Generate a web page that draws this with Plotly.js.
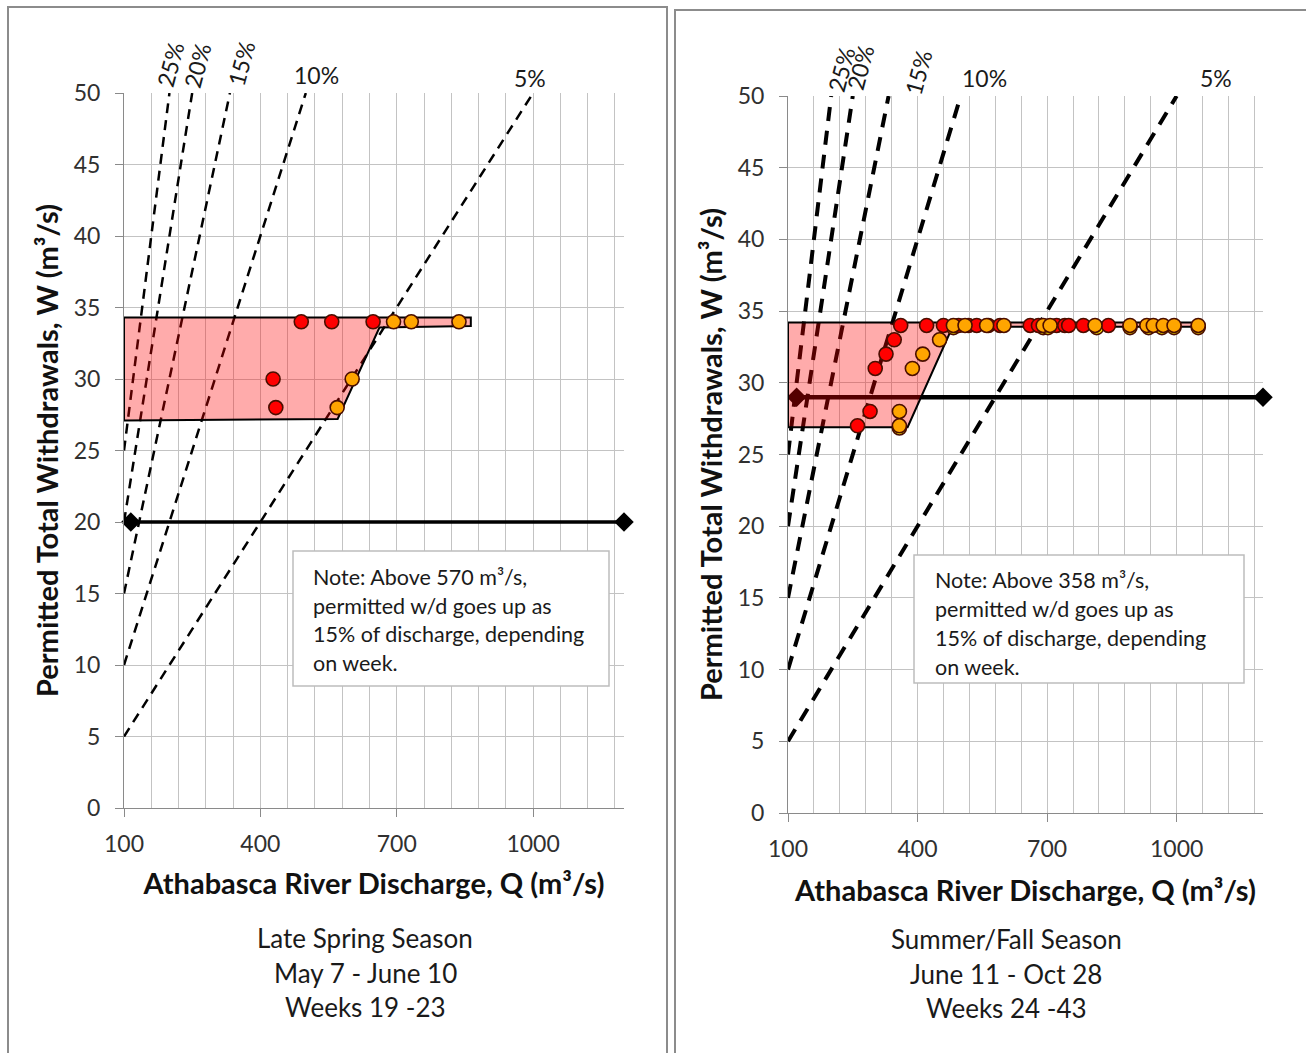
<!DOCTYPE html>
<html><head><meta charset="utf-8">
<script src="https://cdn.plot.ly/plotly-3.0.1.min.js"></script>
<style>html,body{margin:0;padding:0;background:#fff}#chart{width:1306px;height:1053px}</style>
</head><body><div id="chart"></div>
<script>
// ---------- data ----------
const pctLabels = ['25%', '20%', '15%', '10%', '5%'];
const pctStartQ = [100, 100, 100, 100, 100];
const pctStartW = [25, 20, 15, 10, 5];
const pctEndQ = [200, 250, 333, 500, 1000];
const pctEndW = [50, 50, 50, 50, 50];

const xTickVals = [100, 400, 700, 1000];
const yTickVals = [0, 5, 10, 15, 20, 25, 30, 35, 40, 45, 50];

// Late spring (left)
const springLimitQ = [115, 1200];
const springLimitW = [20, 20];
const springZoneQ = [100, 863, 863, 662, 570, 100, 100];
const springZoneW = [34.3, 34.3, 33.7, 33.6, 27.2, 27.1, 34.3];
const springRedQ = [490, 557, 648, 428, 434];
const springRedW = [34, 34, 34, 30, 28];
const springOrangeQ = [693, 732, 837, 602, 569];
const springOrangeW = [34, 34, 34, 30, 28];
const springYellowQ = [];
const springYellowW = [];

// Summer / fall (right)
const summerLimitQ = [120, 1200];
const summerLimitW = [29, 29];
const summerZoneQ = [100, 1060, 1060, 481, 377, 100, 100];
const summerZoneW = [34.2, 34.2, 33.9, 33.9, 26.9, 26.9, 34.2];
const summerRedQ = [361, 421, 460, 495, 518, 537, 564, 591, 661, 680, 722, 741, 750, 784, 842, 346, 327, 302, 290, 261];
const summerRedW = [34, 34, 34, 34, 34, 34, 34, 34, 34, 34, 34, 34, 34, 34, 34, 33, 32, 31, 28, 27];
const summerOrangeQ = [483, 510, 560, 600, 691, 707, 811, 892, 931, 946, 969, 994, 1050, 451, 412, 388, 358, 358];
const summerOrangeW = [34, 34, 34, 34, 34, 34, 34, 34, 34, 34, 34, 34, 34, 33, 32, 31, 28, 27];
const summerYellowQ = [358, 483, 691, 702, 815, 892, 935, 966, 994, 1050];
const summerYellowW = [26.85, 33.85, 33.85, 33.85, 33.85, 33.85, 33.85, 33.85, 33.85, 33.85];

// ---------- helpers ----------
const W = 1306, H = 1053;
const px = x => x / W;
const py = y => 1 - y / H;
const FONT = 'Lato, "Open Sans", sans-serif';

function panelTraces(xa, ya, d, lw, dash, hw) {
  const t = [];
  for (let i = 0; i < pctLabels.length; i++) {
    t.push({x: [pctStartQ[i], pctEndQ[i]], y: [pctStartW[i], pctEndW[i]], xaxis: xa, yaxis: ya,
      mode: 'lines', line: {color: '#000', width: lw, dash: dash}, name: pctLabels[i],
      showlegend: false, hoverinfo: 'skip'});
  }
  t.push({x: d.limitQ, y: d.limitW, xaxis: xa, yaxis: ya, mode: 'lines+markers', cliponaxis: false,
    line: {color: '#000', width: hw}, marker: {symbol: 'diamond', size: 15, color: '#000'},
    showlegend: false, hoverinfo: 'skip'});
  t.push({x: d.zoneQ, y: d.zoneW, xaxis: xa, yaxis: ya, mode: 'lines', fill: 'toself',
    fillcolor: 'rgba(255,0,0,0.33)', line: {color: '#000', width: 2}, showlegend: false, hoverinfo: 'skip'});
  const mk = c => ({size: 14, color: c, line: {color: '#4a0e00', width: 1.6}});
  t.push({x: d.yellowQ, y: d.yellowW, xaxis: xa, yaxis: ya, mode: 'markers', marker: mk('#ffee00'), showlegend: false, cliponaxis: false});
  t.push({x: d.redQ, y: d.redW, xaxis: xa, yaxis: ya, mode: 'markers', marker: mk('#ff0000'), showlegend: false, cliponaxis: false});
  t.push({x: d.orangeQ, y: d.orangeW, xaxis: xa, yaxis: ya, mode: 'markers', marker: mk('#ffa500'), showlegend: false, cliponaxis: false});
  return t;
}

const traces = [].concat(
  panelTraces('x', 'y', {limitQ: springLimitQ, limitW: springLimitW, zoneQ: springZoneQ, zoneW: springZoneW,
    redQ: springRedQ, redW: springRedW, orangeQ: springOrangeQ, orangeW: springOrangeW,
    yellowQ: springYellowQ, yellowW: springYellowW}, 2.5, '10px,7px', 3.5),
  panelTraces('x2', 'y2', {limitQ: summerLimitQ, limitW: summerLimitW, zoneQ: summerZoneQ, zoneW: summerZoneW,
    redQ: summerRedQ, redW: summerRedW, orangeQ: summerOrangeQ, orangeW: summerOrangeW,
    yellowQ: summerYellowQ, yellowW: summerYellowW}, 4, '14px,10px', 4.5)
);

function xAxis(domain, anchor, standoff) {
  return {domain: domain, anchor: anchor, range: [100, 1200], tickmode: 'array', tickvals: xTickVals,
    ticktext: xTickVals.map(String), showgrid: true, gridcolor: '#c3c3c3', gridwidth: 1,
    minor: {tickmode: 'linear', tick0: 100, dtick: 60, showgrid: true, gridcolor: '#c3c3c3', gridwidth: 1},
    showline: true, linecolor: '#8a8a8a', linewidth: 1, ticks: 'outside', ticklen: 8, tickcolor: '#8a8a8a',
    ticklabelstandoff: 7, zeroline: false, fixedrange: true,
    tickfont: {family: FONT, size: 23, color: '#303030'},
    title: {text: '<b>Athabasca River Discharge, Q (m³/s)</b>', font: {family: FONT, size: 29, color: '#111'}, standoff: standoff}};
}
function yAxis(domain, anchor) {
  return {domain: domain, anchor: anchor, range: [0, 50], tickmode: 'array', tickvals: yTickVals,
    showgrid: true, gridcolor: '#c3c3c3', gridwidth: 1, showline: true, linecolor: '#8a8a8a', linewidth: 1,
    ticks: 'outside', ticklen: 8, tickcolor: '#8a8a8a', ticklabelstandoff: 10, zeroline: false, fixedrange: true,
    tickfont: {family: FONT, size: 23, color: '#303030'},
    title: {text: '<b>Permitted Total Withdrawals, W (m³/s)</b>', font: {family: FONT, size: 29, color: '#111'}, standoff: 6}};
}

const annotations = [];
function txt(text, x, y, size, opts) {
  annotations.push(Object.assign({text: text, x: px(x), y: py(y), xref: 'paper', yref: 'paper',
    showarrow: false, font: {family: FONT, size: size, color: '#1a1a1a'}, xanchor: 'center', yanchor: 'middle'}, opts || {}));
}
// percent labels
const leftPctPos = [[170, 65, -75], [197, 66, -75], [241, 64, -75], [316, 75, 0], [530, 78, 0]];
const rightPctPos = [[841, 70, -75], [860, 68, -75], [918, 73, -75], [984, 78, 0], [1216, 78, 0]];
pctLabels.forEach((l, i) => {
  txt(l, leftPctPos[i][0], leftPctPos[i][1], 23, {textangle: leftPctPos[i][2]});
  txt(l, rightPctPos[i][0], rightPctPos[i][1], 23, {textangle: rightPctPos[i][2]});
});
// season captions
['Late Spring Season', 'May 7 - June 10', 'Weeks 19 -23'].forEach((s, i) => txt(s, 365, 938 + i * 34.5, 26));
['Summer/Fall Season', 'June 11 - Oct 28', 'Weeks 24 -43'].forEach((s, i) => txt(s, 1006, 939 + i * 34.5, 26));
// notes
['Note: Above 570 m³/s,', 'permitted w/d goes up as', '15% of discharge, depending', 'on week.']
  .forEach((s, i) => txt(s, 311, 577 + i * 28.5, 21.5, {xanchor: 'left'}));
['Note: Above 358 m³/s,', 'permitted w/d goes up as', '15% of discharge, depending', 'on week.']
  .forEach((s, i) => txt(s, 933, 580 + i * 29, 21.5, {xanchor: 'left'}));

const shapes = [
  {type: 'rect', xref: 'paper', yref: 'paper', x0: px(8), x1: px(667), y0: -0.02, y1: py(7), line: {color: '#8c8c8c', width: 2}, layer: 'below'},
  {type: 'rect', xref: 'paper', yref: 'paper', x0: px(675), x1: 1.02, y0: -0.02, y1: py(10), line: {color: '#8c8c8c', width: 2}, layer: 'below'},
  {type: 'rect', xref: 'paper', yref: 'paper', x0: px(293), x1: px(609), y0: py(686), y1: py(551), fillcolor: '#fff', line: {color: '#bdbdbd', width: 1.5}, layer: 'above'},
  {type: 'rect', xref: 'paper', yref: 'paper', x0: px(914), x1: px(1244), y0: py(683), y1: py(555), fillcolor: '#fff', line: {color: '#bdbdbd', width: 1.5}, layer: 'above'}
];

const layout = {
  width: W, height: H, margin: {l: 0, r: 0, t: 0, b: 0}, paper_bgcolor: '#fff', plot_bgcolor: '#fff',
  showlegend: false, hovermode: false,
  xaxis: xAxis([px(124), px(624)], 'y', 18),
  yaxis: yAxis([py(808), py(93)], 'x'),
  xaxis2: xAxis([px(788), px(1263)], 'y2', 20),
  yaxis2: yAxis([py(813), py(96)], 'x2'),
  shapes: shapes, annotations: annotations
};

Plotly.newPlot('chart', traces, layout, {displayModeBar: false, staticPlot: true});
</script></body></html>
